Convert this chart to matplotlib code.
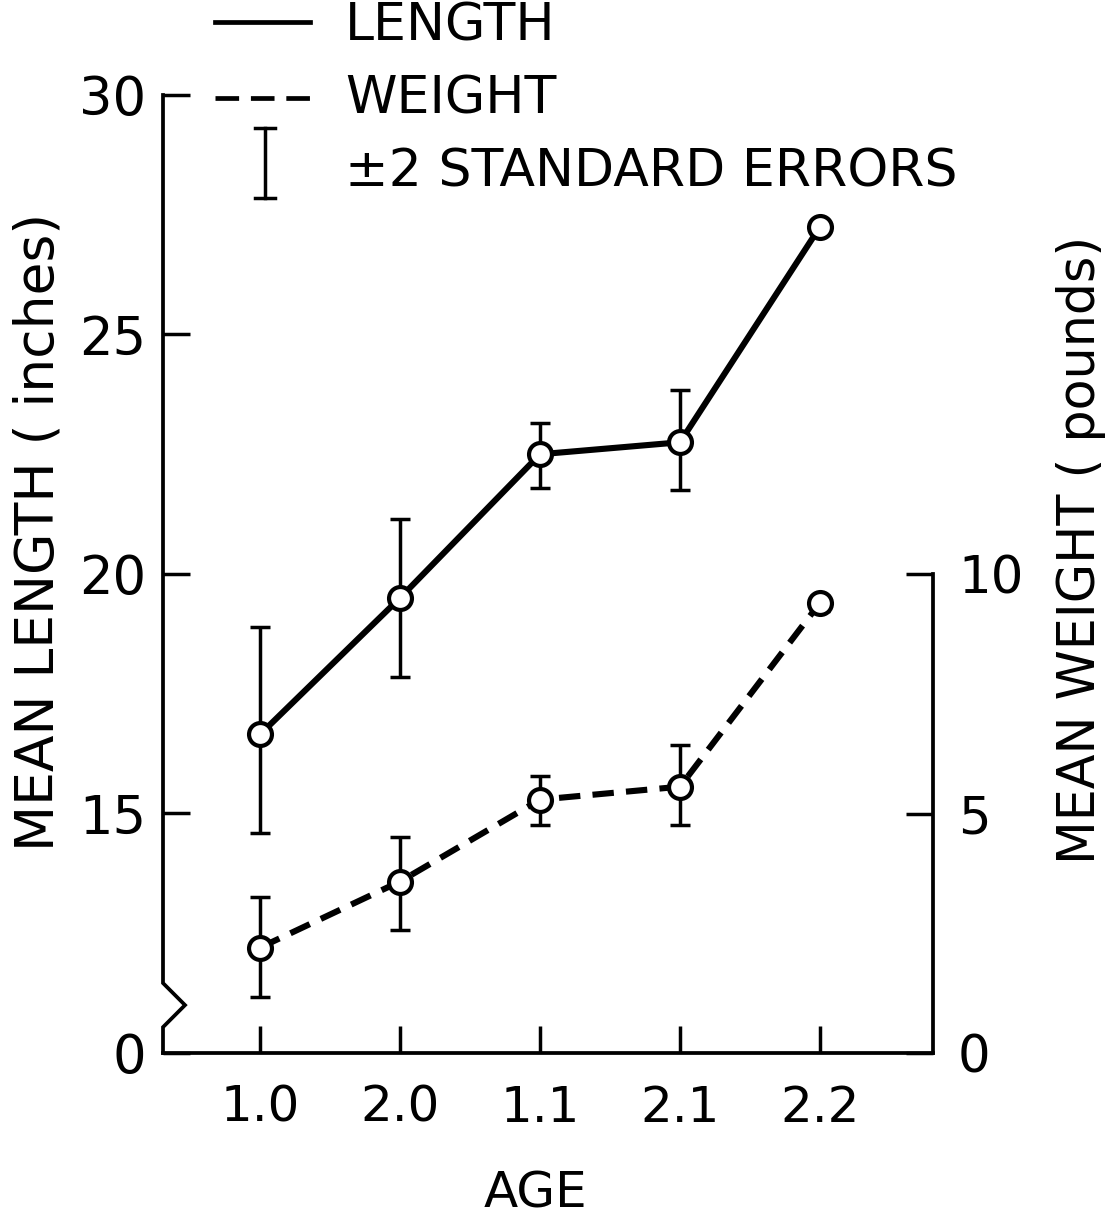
import numpy as np
import matplotlib
matplotlib.use("Agg")
import matplotlib.pyplot as plt
import matplotlib.transforms as mtransforms

# age groups, in the order shown on the x axis
ages = ["1.0", "2.0", "1.1", "2.1", "2.2"]

# mean length (inches) and +/- 2 SE limits
length_mean = [16.65, 19.5, 22.5, 22.75, 27.25]
length_lo = [14.6, 17.85, 21.8, 21.75, np.nan]
length_hi = [18.9, 21.15, 23.15, 23.85, np.nan]

# mean weight (pounds) and +/- 2 SE limits
weight_mean = [2.2, 3.58, 5.29, 5.56, 9.4]
weight_lo = [1.17, 2.57, 4.75, 4.77, 9.23]
weight_hi = [3.26, 4.5, 5.79, 6.44, 9.55]

length_ticks = [10, 15, 20, 25, 30]
length_ticklabels = ["0", "15", "20", "25", "30"]
weight_ticks = [0, 5, 10]

plt.rcParams["font.family"] = ["DejaVu Sans"]

W, H = 1107, 1218
fig = plt.figure(figsize=(W / 100, H / 100), dpi=100)
ax = fig.add_axes([163 / W, 1 - 1053 / H, 770 / W, 958 / H])
ax2 = ax.twinx()

lw_line = 4.4
lw_err = 2.5
lw_spine = 2.7
ms = 16.5
mew = 3.0
x = np.arange(len(ages))


def err(mean, lo, hi):
    mean = np.asarray(mean, float)
    return [mean - np.asarray(lo, float), np.asarray(hi, float) - mean]


# length (left axis)
ax.errorbar(x, length_mean, yerr=err(length_mean, length_lo, length_hi),
            fmt="none", ecolor="black", elinewidth=lw_err, capsize=7.5,
            capthick=lw_err, zorder=2)
ax.plot(x, length_mean, color="black", lw=lw_line, marker="o", ms=ms,
        mfc="white", mec="black", mew=mew, zorder=3)

# weight (right axis)
ax2.errorbar(x, weight_mean, yerr=err(weight_mean, weight_lo, weight_hi),
             fmt="none", ecolor="black", elinewidth=lw_err, capsize=7.5,
             capthick=lw_err, zorder=2)
ax2.plot(x, weight_mean, color="black", lw=lw_line, ls=(0, (3.5, 2.0)),
         marker="o", ms=ms, mfc="white", mec="black", mew=mew, zorder=3)

# axes limits
ax.set_xlim(-0.693, 4.807)
ax.set_ylim(10, 30)
ax2.set_ylim(0, 20)

# spines
for s in ["top", "right", "left"]:
    ax.spines[s].set_visible(False)
ax.spines["bottom"].set_linewidth(lw_spine)
for s in ["top", "left", "bottom"]:
    ax2.spines[s].set_visible(False)
ax2.spines["right"].set_bounds(0, 10)
ax2.spines["right"].set_linewidth(lw_spine)

# left axis line with a break near the bottom
blend = mtransforms.blended_transform_factory(ax.transAxes, ax.transData)
ax.plot([0, 0, 0.0286, 0, 0], [30, 11.46, 11.0, 10.54, 10], color="black",
        lw=lw_spine, transform=blend, clip_on=False, solid_joinstyle="miter",
        solid_capstyle="projecting")

# ticks
tick_kw = dict(direction="in", length=19.5, width=2.5)
ax.set_xticks(x, ages)
ax.tick_params(axis="x", pad=22, labelsize=36, **tick_kw)
ax.set_yticks(length_ticks, length_ticklabels)
ax.tick_params(axis="y", pad=12, labelsize=38, **tick_kw)
ax2.set_yticks(weight_ticks)
ax2.tick_params(axis="y", pad=18, labelsize=37, **tick_kw)

# axis labels
ax.set_ylabel("MEAN LENGTH ( inches)", fontsize=38.5)
ax.yaxis.set_label_coords(-0.128, 0.544)
ax2.set_ylabel("MEAN WEIGHT ( pounds)", fontsize=36.5)
ax2.yaxis.set_label_coords(1.16, 0.525)
ax.set_xlabel("AGE", fontsize=36)
ax.xaxis.set_label_coords(0.484, -0.122)

# legend drawn by hand at the top
T = ax.transAxes
ax.plot([0.0675, 0.191], [1.0762, 1.0762], color="black", lw=3.4,
        transform=T, clip_on=False)
ax.plot([0.0675, 0.191], [0.9969, 0.9969], color="black", lw=3.4,
        ls=(0, (5.0, 2.5)), transform=T, clip_on=False)
ax.plot([0.1325, 0.1325], [0.8925, 0.9656], color="black", lw=lw_err,
        transform=T, clip_on=False)
for yy in (0.8925, 0.9656):
    ax.plot([0.1195, 0.1455], [yy, yy], color="black", lw=lw_err,
            transform=T, clip_on=False)
leg_kw = dict(transform=T, fontsize=37.5, va="center", ha="left")
ax.text(0.2364, 1.071, "LENGTH", **leg_kw)
ax.text(0.2364, 0.995, "WEIGHT", **leg_kw)
ax.text(0.2364, 0.919, "\u00b12 STANDARD ERRORS", **leg_kw)

fig.savefig("out.png", dpi=100, facecolor="white")
